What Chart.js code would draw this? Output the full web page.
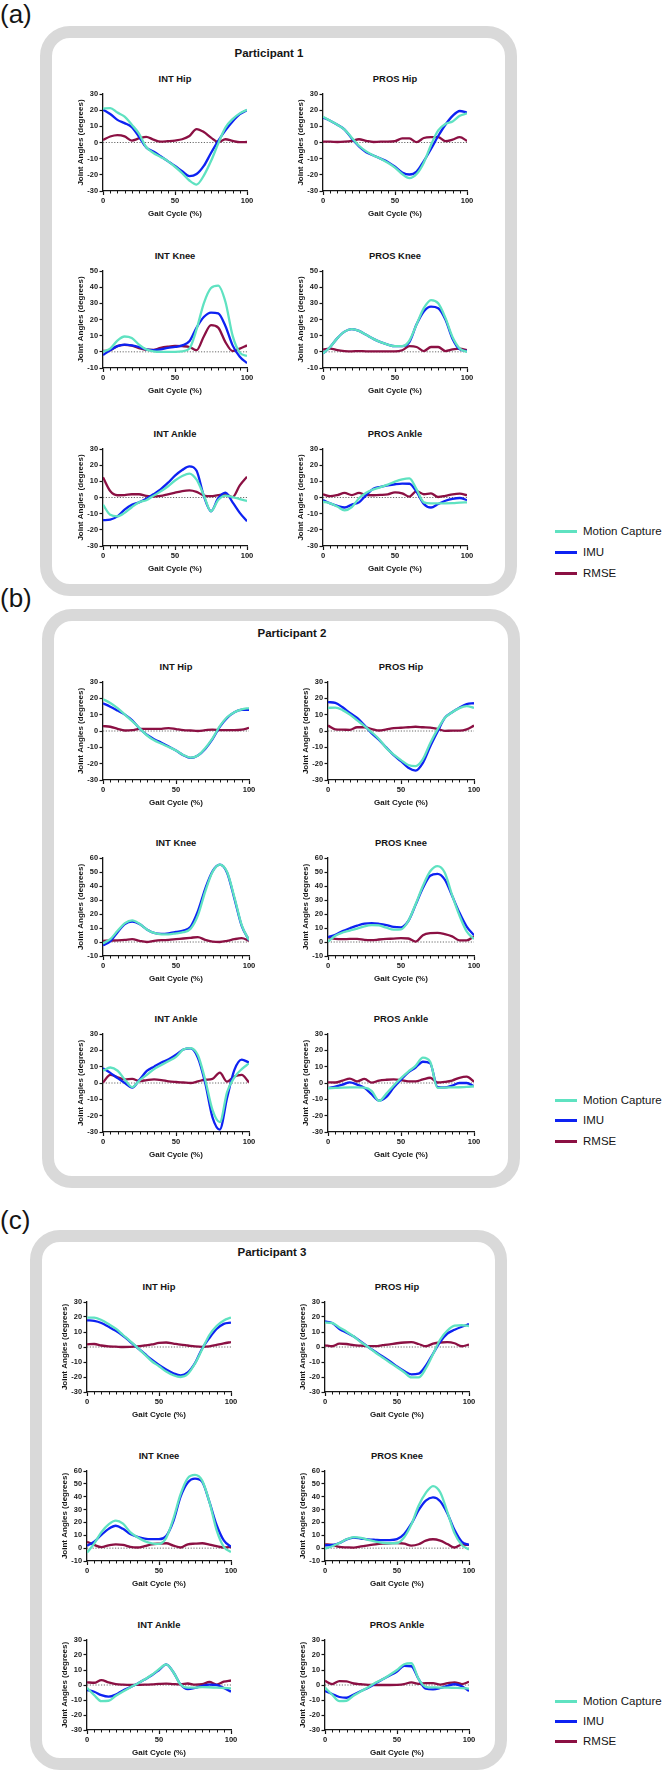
<!DOCTYPE html>
<html>
<head>
<meta charset="utf-8">
<title>Joint angles: Motion Capture vs IMU</title>
<script src="https://cdn.jsdelivr.net/npm/chart.js@4.4.1/dist/chart.umd.min.js"></script>
<style>
  body { margin: 0; background: #fff; font-family: 'Liberation Sans', Arial, sans-serif; color: #151515; }
  #page { position: relative; width: 670px; height: 1776px; overflow: hidden; }
  .box { position: absolute; border: 12px solid #d9d9d9; border-radius: 30px; box-sizing: border-box; }
  .tag { position: absolute; left: 0; font-size: 26px; line-height: 26px; transform: translateY(-50%); }
  .who { position: absolute; font-weight: bold; font-size: 11.5px; transform: translate(-50%, -50%); white-space: nowrap; }
  .sub { position: absolute; font-weight: bold; font-size: 9.4px; transform: translate(-50%, -50%); white-space: nowrap; }
  .key { position: absolute; left: 555px; height: 14px; transform: translateY(-50%); white-space: nowrap; font-size: 11.5px; line-height: 14px; }
  .key i { position: absolute; left: 0; top: 5.5px; width: 22px; height: 3px; }
  .key span { position: absolute; left: 28px; top: 0; }
  canvas { position: absolute; }
</style>
</head>
<body>
<div id="page"></div>
<script>
// gait cycle (%) sample points, shared by every curve
const gaitCycle = [0, 5, 10, 15, 20, 25, 30, 35, 40, 45, 50, 55, 60, 65, 70, 75, 80, 85, 90, 95, 100];
const xTicks = [0, 50, 100];
const hipTicks = [-30, -20, -10, 0, 10, 20, 30];
const kneeTicksShort = [-10, 0, 10, 20, 30, 40, 50];
const kneeTicksTall = [-10, 0, 10, 20, 30, 40, 50, 60];
const ankleTicks = [-30, -20, -10, 0, 10, 20, 30];
const seriesNames = ['Motion Capture', 'IMU', 'RMSE'];
const seriesColors = ['#5fe2c1', '#0d22f2', '#8b1043'];

// ---- Participant 1 ----
const p1IntHipMC   = [21, 21.3, 18.5, 16, 11, 5.5, -2.8, -6.5, -8.9, -11.5, -15, -19, -23.5, -26, -20.5, -11.5, -0.7, 9.2, 14.5, 18, 20.3];
const p1IntHipIMU  = [20.3, 17.6, 14, 12, 9.5, 3.5, -3, -5.6, -8.5, -11.5, -14.5, -17.8, -20.8, -19.5, -14.5, -6.5, 1, 7.5, 13, 17.5, 20];
const p1IntHipRMSE = [1.5, 3.7, 4.6, 3.8, 1.2, 2.5, 3.5, 1.8, 0.5, 0.8, 1.2, 2, 4, 8.3, 6.5, 3, 0.3, 2, 1, 0.2, 0.3];
const p1ProsHipMC   = [16, 13.5, 11, 8, 3, -2, -5.5, -8, -10, -12.5, -15.5, -19.5, -22, -19.5, -12.5, -1.5, 7.5, 11.5, 13, 16.5, 18];
const p1ProsHipIMU  = [15.5, 13.5, 11, 8, 2.5, -2.5, -6, -8, -10, -12, -15, -18.5, -19.8, -18, -11.5, -4, 4, 11, 16.5, 19.5, 18.5];
const p1ProsHipRMSE = [0.5, 0.5, 0.3, 0.5, 1, 2, 1, 0.3, 0.5, 0.5, 0.8, 2.5, 2.5, 0.2, 2.8, 3.3, 3.3, 0.8, 1.8, 3.3, 1];
const p1IntKneeMC   = [0, 2, 7, 9.5, 8.5, 4.5, 1.5, 0.3, 0, 0, 0, 0.3, 2, 14, 30, 39.5, 41, 31, 10, -0.5, -2.5];
const p1IntKneeIMU  = [-2, 1, 3.5, 4.5, 4, 3, 1.5, 1, 1.5, 2.5, 3, 4, 6.5, 15, 21.5, 24.3, 23.8, 16, 4, -3, -7];
const p1IntKneeRMSE = [0.5, 1, 3.5, 4.3, 3.8, 2.3, 1.3, 1.2, 2.5, 3.2, 3.6, 3.5, 3, 1, 9.5, 16.5, 15, 6, 0.5, 2, 4];
const p1ProsKneeMC   = [-1, 3, 8.5, 12.5, 14, 13, 10.5, 8, 6, 4.5, 3.5, 3.5, 7, 17, 27, 32, 30, 21, 9, 2, 0];
const p1ProsKneeIMU  = [-1, 3, 8.5, 12.5, 14, 13, 10.5, 8, 6, 4.5, 3.5, 3.5, 6, 17, 25, 28, 27, 20, 8, 1.5, 0.5];
const p1ProsKneeRMSE = [1.5, 2, 1, 0.5, 0.3, 0.5, 0.3, 0.3, 0.3, 0.3, 0.3, 1, 3.5, 3, 0.5, 3, 3, 0.5, 1.5, 2, 1];
const p1IntAnkleMC   = [-4.5, -10.7, -11.7, -9.5, -6, -3, -1.7, 1, 3.8, 6.8, 10.5, 13.3, 14.8, 11, 1.4, -8.5, -1.5, 1.2, 0.3, -1, -2.2];
const p1IntAnkleIMU  = [-14, -13.7, -11.7, -7.5, -4.5, -3, -0.8, 2, 5, 9, 13.5, 17, 19.3, 16.5, 1, -8.5, -0.5, 3, -3, -9.5, -14.7];
const p1IntAnkleRMSE = [12.5, 4, 1.4, 1.5, 2, 2, 1, 0.5, 1, 2, 3, 4, 4.4, 3.5, 1.2, 0.8, 1.5, 2, 0.2, 7.5, 12.8];
const p1ProsAnkleMC   = [-2.6, -3.6, -5.6, -8, -6, -0.5, 3, 5, 6.4, 8, 9.8, 11.2, 11.8, 5, -3, -3.6, -3.6, -3.6, -3.5, -3.2, -3];
const p1ProsAnkleIMU  = [-1.6, -3.6, -5.2, -6.2, -4.4, -3, 1.5, 5.4, 6.6, 7.5, 8.2, 8.6, 8.5, 3.5, -4, -6.2, -4, -2, -0.8, -0.3, -1.6];
const p1ProsAnkleRMSE = [2, 0.8, 1.5, 2.8, 1.5, 2.8, 1.5, 1.4, 1.6, 2, 3.2, 2.6, 0.5, 4, 2, 2.5, 0.3, 1, 2, 2.4, 1.4];

// ---- Participant 2 ----
const p2IntHipMC   = [19.5, 17.2, 14, 10, 6, 1.8, -2.6, -5.7, -7.8, -9.8, -12, -14.7, -16.3, -15, -10.5, -4.5, 3, 8.4, 11.5, 13.3, 14];
const p2IntHipIMU  = [17, 14.9, 12.5, 10, 6.5, 1.5, -2.3, -5, -7.2, -9.5, -12, -14.8, -16.5, -15, -11, -5, 2.5, 8, 11.5, 13, 13];
const p2IntHipRMSE = [3, 2.6, 1.3, 0.3, 0.5, 1.3, 1.3, 1.3, 1.3, 1.8, 1.2, 0.6, 0.3, 0, 0.5, 0.9, 0.5, 0.5, 0.5, 0.8, 1.9];
const p2ProsHipMC   = [14.2, 14.3, 12.8, 10, 6.5, 3, -0.8, -5, -10.5, -14.5, -17.8, -20.8, -21.5, -17.2, -7.5, 1, 8, 11.5, 14, 15.2, 14.2];
const p2ProsHipIMU  = [17.7, 17.2, 14.5, 11, 8, 3.5, -1.5, -5.5, -10.2, -14.8, -18.5, -22.5, -24.2, -19.5, -9.5, -0.5, 8, 11.5, 14.2, 16.5, 17];
const p2ProsHipRMSE = [3.3, 1, 0.8, 0.7, 2.3, 2.3, 1.2, 0.3, 1, 1.8, 2, 2.3, 2.6, 2.3, 2.1, 1.3, 0.1, 0.2, 0.2, 1, 3.3];
const p2IntKneeMC   = [-1, 2, 8, 13.5, 15.5, 13, 9, 6.5, 5.5, 5.5, 6.2, 7, 9.5, 19, 36, 50, 55.3, 50, 32, 12, 1.3];
const p2IntKneeIMU  = [-2.4, 0.5, 7, 12.8, 14.6, 12.8, 9, 6.5, 5.8, 6.2, 7.2, 8.2, 11, 22, 38, 50.5, 55.3, 49.5, 31, 11.5, 1.3];
const p2IntKneeRMSE = [0.8, 1, 1.2, 1.5, 2, 0.8, 0, 0.8, 1.3, 1.5, 2, 2.5, 3, 3.5, 1.5, 0.3, 0, 0.8, 2, 2.7, 0.8];
const p2ProsKneeMC   = [0.3, 4.5, 6.8, 8.2, 9.6, 11.2, 12, 11.8, 10.2, 8.8, 9, 15, 27, 40, 50.5, 54.2, 49.5, 33.5, 19, 7.5, 2.2];
const p2ProsKneeIMU  = [3.5, 5.2, 7.8, 9.8, 11.7, 13.2, 13.5, 13, 12.1, 10.8, 10.5, 15, 26.5, 38.5, 47.3, 48.6, 44.5, 33, 21, 11, 4.9];
const p2ProsKneeRMSE = [3.5, 2.2, 2, 2.2, 2.2, 1.5, 1.3, 1.8, 2.2, 2.4, 2.7, 2.5, 0.3, 4.9, 6.3, 6.5, 5.6, 4, 1.2, 1.2, 4];
const p2IntAnkleMC   = [7.5, 9.5, 7.5, 2, -2.5, 1.5, 5, 8.5, 11, 13.5, 16, 20.5, 21.4, 17, 2, -16.5, -24, -5.5, 3.5, 8.5, 12];
const p2IntAnkleIMU  = [9, 6.2, 3, 0, -2.8, 2, 7.4, 10, 12.5, 14.5, 17.3, 20.5, 21.2, 15.5, 0, -21, -28.5, -9, 8, 14.3, 12.5];
const p2IntAnkleRMSE = [0.3, 5, 3.5, 2.2, 2.5, 1.2, 1.8, 2.2, 1.8, 1, 0.6, 0.3, 0, 1, 2, 2.5, 6.3, 0.8, 4, 5, 0.3];
const p2ProsAnkleMC   = [-3.2, -3, -2.8, -2.7, -2.7, -2.8, -5, -11, -6.5, -1.5, 3, 7, 10.5, 15.5, 13, -3, -2.8, -2.7, -2.6, -2.4, -2];
const p2ProsAnkleIMU  = [-3.2, -2.2, -1, 0.4, -1, -3, -7, -10.8, -8.5, -2.8, 2, 6.5, 9.5, 13, 12, -2.5, -2.7, -1.6, 0, 0, -2];
const p2ProsAnkleRMSE = [0.4, 0.3, 1.5, 2.7, 1, 2.5, 0.2, 1.5, 2, 2.2, 1.8, 1, 1, 2.2, 3.2, 0.3, 0.7, 1.5, 3.2, 3.9, 0.8];

// ---- Participant 3 ----
const p3IntHipMC   = [19.6, 19.6, 18, 15.3, 12.2, 8, 3.9, -0.4, -4.9, -9.5, -12.8, -16.3, -18.8, -20, -18, -11, -1.5, 8, 14, 17.7, 19.6];
const p3IntHipIMU  = [17.8, 17.4, 16, 13.5, 10.8, 7.5, 3.5, -0.5, -4.5, -8.5, -12, -15, -17.5, -18.9, -17, -10.8, -1, 6, 12, 15.4, 16.2];
const p3IntHipRMSE = [1.8, 2, 1, 0.4, 0.2, 0, 0.1, 0.4, 1, 1.7, 2.7, 3, 2.3, 1.6, 1, 0.4, 0.1, 0.4, 1.4, 2.4, 3.3];
const p3ProsHipMC   = [16.3, 16, 13, 10.2, 7, 3.2, 0, -3.7, -7, -10.3, -13.5, -16.8, -20.3, -20.3, -14.3, -4.8, 5, 11, 14.3, 14.5, 14];
const p3ProsHipIMU  = [17, 16, 12, 9.5, 7, 3.5, 0, -3.2, -6.3, -9.5, -13, -16, -18.2, -17.8, -12.5, -4.5, 3.5, 9, 11.5, 13.5, 15.2];
const p3ProsHipRMSE = [1.1, 0.5, 2.2, 2, 1.2, 0.9, 0.6, 0.6, 1.2, 1.8, 2.5, 3, 3.2, 2, 0.5, 2.2, 3, 3.2, 2.5, 0.5, 1.6];
const p3IntKneeMC   = [-3.5, 3.5, 12.5, 18.5, 21.4, 19, 12.5, 8.5, 5.5, 3.8, 3.3, 8, 23, 42, 54.5, 57, 52.5, 36, 14, 1, -3];
const p3IntKneeIMU  = [1.8, 5, 10.3, 15, 17.4, 15, 11, 8.8, 7.4, 7, 7, 9.5, 21, 40, 51, 54, 51.5, 36, 18, 6, 1];
const p3IntKneeRMSE = [5, 2.5, 0.8, 2.2, 3, 2.5, 1, 0.5, 1.5, 3, 3.5, 3.8, 2, 0.5, 3, 3.5, 3.8, 2.8, 1.5, 0.5, 1];
const p3ProsKneeMC   = [-0.4, 1.5, 4, 6.9, 8.5, 8, 6.5, 5, 4.2, 3.8, 4, 8.5, 18.5, 33, 43, 48.3, 43.5, 28, 11.5, 2.5, -1];
const p3ProsKneeIMU  = [2.2, 2.5, 4, 6.8, 8.2, 7.5, 6.8, 6.5, 6.3, 6.3, 7, 11, 19, 29.5, 37, 39.5, 36.5, 27, 14, 5, 2.5];
const p3ProsKneeRMSE = [3, 2.5, 0.9, 0.6, 0.4, 1.3, 2.2, 3, 3.5, 3.7, 4, 3.5, 2, 3, 5.8, 6.9, 5.8, 3.2, 0.5, 2.8, 2.5];
const p3IntAnkleMC   = [-1.8, -6.8, -10.8, -10.5, -7.2, -4.3, -1.6, 0.9, 3.6, 6.8, 10.5, 13.7, 8.5, 0.3, -1.8, -1.7, -1.4, -1.5, -1.8, -2, -2.2];
const p3IntAnkleIMU  = [-3.3, -4.5, -6.8, -7.8, -6.4, -3.6, -1.5, 0.9, 3.6, 6.5, 10, 13.7, 8.5, 0.3, -2.8, -2, -0.6, 0.2, 0, -2, -4.4];
const p3IntAnkleRMSE = [1.8, 1.5, 3.3, 1.7, 0.6, 0.2, 0, 0.1, 0.2, 0.4, 0.7, 0.9, 0.6, 0.4, 1, 0.3, 0.5, 2, 0.3, 2.2, 3];
const p3ProsAnkleMC   = [-1.7, -6.5, -10.8, -10.5, -7, -4.2, -1.5, 1.5, 3.8, 6.8, 10, 13.8, 14.5, 4, -1.2, -1.6, -1.7, -1.7, -1.9, -2.1, -2.4];
const p3ProsAnkleIMU  = [-4, -6, -8, -8.5, -6.3, -4, -1.8, 1, 3.8, 6.3, 9, 12.8, 12.5, 4, -2.5, -2.9, -2, -0.5, 0.5, -0.8, -4];
const p3ProsAnkleRMSE = [2.8, 0.6, 2.6, 2.4, 1, 0.5, 0.1, 0, 0, 0, 0.1, 0.6, 1.8, 0.8, 1.2, 1.2, 0.3, 1.2, 1.8, 0.6, 2.1];

// subplot tables: title, mocap, imu, rmse, y ticks (order: row by row, INT then PROS)
const p1Plots = [
  ['INT Hip', p1IntHipMC, p1IntHipIMU, p1IntHipRMSE, hipTicks],
  ['PROS Hip', p1ProsHipMC, p1ProsHipIMU, p1ProsHipRMSE, hipTicks],
  ['INT Knee', p1IntKneeMC, p1IntKneeIMU, p1IntKneeRMSE, kneeTicksShort],
  ['PROS Knee', p1ProsKneeMC, p1ProsKneeIMU, p1ProsKneeRMSE, kneeTicksShort],
  ['INT Ankle', p1IntAnkleMC, p1IntAnkleIMU, p1IntAnkleRMSE, ankleTicks],
  ['PROS Ankle', p1ProsAnkleMC, p1ProsAnkleIMU, p1ProsAnkleRMSE, ankleTicks]
];
const p2Plots = [
  ['INT Hip', p2IntHipMC, p2IntHipIMU, p2IntHipRMSE, hipTicks],
  ['PROS Hip', p2ProsHipMC, p2ProsHipIMU, p2ProsHipRMSE, hipTicks],
  ['INT Knee', p2IntKneeMC, p2IntKneeIMU, p2IntKneeRMSE, kneeTicksTall],
  ['PROS Knee', p2ProsKneeMC, p2ProsKneeIMU, p2ProsKneeRMSE, kneeTicksTall],
  ['INT Ankle', p2IntAnkleMC, p2IntAnkleIMU, p2IntAnkleRMSE, ankleTicks],
  ['PROS Ankle', p2ProsAnkleMC, p2ProsAnkleIMU, p2ProsAnkleRMSE, ankleTicks]
];
const p3Plots = [
  ['INT Hip', p3IntHipMC, p3IntHipIMU, p3IntHipRMSE, hipTicks],
  ['PROS Hip', p3ProsHipMC, p3ProsHipIMU, p3ProsHipRMSE, hipTicks],
  ['INT Knee', p3IntKneeMC, p3IntKneeIMU, p3IntKneeRMSE, kneeTicksTall],
  ['PROS Knee', p3ProsKneeMC, p3ProsKneeIMU, p3ProsKneeRMSE, kneeTicksTall],
  ['INT Ankle', p3IntAnkleMC, p3IntAnkleIMU, p3IntAnkleRMSE, ankleTicks],
  ['PROS Ankle', p3ProsAnkleMC, p3ProsAnkleIMU, p3ProsAnkleRMSE, ankleTicks]
];

// page layout (pixels)
const panels = [
  { tag: '(a)', tagY: 14,   box: [40, 26, 517, 596],    who: 'Participant 1', whoX: 269, whoY: 53,
    colL: [103, 323], plotW: 144, rowT: [94, 271, 449],    plotH: 97, keyY: [531, 552, 573], plots: p1Plots },
  { tag: '(b)', tagY: 598,  box: [42, 609, 520, 1188],  who: 'Participant 2', whoX: 292, whoY: 633,
    colL: [103, 328], plotW: 146, rowT: [682, 858, 1034],  plotH: 98, keyY: [1100, 1120, 1141], plots: p2Plots },
  { tag: '(c)', tagY: 1220, box: [30, 1230, 507, 1770], who: 'Participant 3', whoX: 272, whoY: 1252,
    colL: [87, 325], plotW: 144, rowT: [1302, 1471, 1640], plotH: 90, keyY: [1701, 1721, 1741], plots: p3Plots }
];

const PAD_L = 30, PAD_T = 6, PAD_R = 9, PAD_B = 30;
const INK = '#161616';
Chart.defaults.font.family = "'Liberation Sans', Arial, sans-serif";
Chart.defaults.color = INK;

const page = document.getElementById('page');

function addDiv(cls, text, left, top) {
  const d = document.createElement('div');
  d.className = cls;
  if (text) d.textContent = text;
  d.style.left = left + 'px';
  d.style.top = top + 'px';
  page.appendChild(d);
  return d;
}

// dotted zero line under the curves, minor ticks on the gait axis
const prismLook = {
  id: 'prismLook',
  beforeDatasetsDraw(chart) {
    const { ctx, chartArea, scales } = chart;
    const y0 = scales.y.getPixelForValue(0);
    ctx.save();
    ctx.strokeStyle = '#6a6a6a';
    ctx.lineWidth = 1;
    ctx.setLineDash([1.2, 1.6]);
    ctx.beginPath();
    ctx.moveTo(chartArea.left, y0);
    ctx.lineTo(chartArea.right, y0);
    ctx.stroke();
    ctx.restore();
  },
  afterDraw(chart) {
    const { ctx, chartArea, scales } = chart;
    ctx.save();
    ctx.strokeStyle = INK;
    ctx.lineWidth = 1;
    ctx.beginPath();
    for (let v = 5; v < 100; v += 5) {
      if (v === 50) continue;
      const px = Math.round(scales.x.getPixelForValue(v)) + 0.5;
      ctx.moveTo(px, chartArea.bottom);
      ctx.lineTo(px, chartArea.bottom + 2.5);
    }
    ctx.stroke();
    ctx.restore();
  }
};

function makePlot(L, T, W, H, plot) {
  const [title, mc, imu, rmse, yTicks] = plot;
  const cv = document.createElement('canvas');
  const cw = W + PAD_L + PAD_R;
  const ch = H + PAD_T + PAD_B;
  cv.width = cw;
  cv.height = ch;
  cv.style.left = (L - PAD_L) + 'px';
  cv.style.top = (T - PAD_T) + 'px';
  cv.style.width = cw + 'px';
  cv.style.height = ch + 'px';
  page.appendChild(cv);

  addDiv('sub', title, L + W / 2, T - 16);

  const toPoints = (arr) => arr.map((v, i) => ({ x: gaitCycle[i], y: v }));
  const lineSet = (idx, arr) => ({
    label: seriesNames[idx],
    data: toPoints(arr),
    borderColor: seriesColors[idx],
    borderWidth: 2.3,
    pointRadius: 0,
    fill: false,
    cubicInterpolationMode: 'monotone',
    order: idx
  });

  new Chart(cv.getContext('2d'), {
    type: 'line',
    data: { datasets: [lineSet(0, mc), lineSet(1, imu), lineSet(2, rmse)] },
    options: {
      responsive: false,
      animation: false,
      devicePixelRatio: 1,
      layout: { padding: { left: 0, top: PAD_T, right: PAD_R, bottom: 0 } },
      plugins: { legend: { display: false }, tooltip: { enabled: false } },
      scales: {
        x: {
          type: 'linear',
          min: xTicks[0],
          max: xTicks[xTicks.length - 1],
          afterFit: (s) => { s.height = PAD_B; },
          afterBuildTicks: (s) => { s.ticks = xTicks.map((v) => ({ value: v })); },
          ticks: { font: { size: 7.6, weight: 'bold' }, padding: 1.5, maxRotation: 0 },
          grid: { drawOnChartArea: false, tickLength: 4, tickColor: INK, tickWidth: 1.2 },
          border: { color: INK, width: 1.3 },
          title: { display: true, text: 'Gait Cycle (%)', font: { size: 8, weight: 'bold' }, padding: { top: 0, bottom: 2.7 } }
        },
        y: {
          min: yTicks[0],
          max: yTicks[yTicks.length - 1],
          afterFit: (s) => { s.width = PAD_L; },
          afterBuildTicks: (s) => { s.ticks = yTicks.map((v) => ({ value: v })); },
          ticks: { font: { size: 7.4, weight: 'bold' }, padding: 1.5 },
          grid: { drawOnChartArea: false, tickLength: 3.5, tickColor: INK, tickWidth: 1.2 },
          border: { color: INK, width: 1.3 },
          title: { display: true, text: 'Joint Angles (degrees)', font: { size: 8, weight: 'bold' }, padding: { top: 2.5, bottom: 0 } }
        }
      }
    },
    plugins: [prismLook]
  });
}

panels.forEach((p) => {
  const [bx0, by0, bx1, by1] = p.box;
  const box = addDiv('box', '', bx0, by0);
  box.style.width = (bx1 - bx0) + 'px';
  box.style.height = (by1 - by0) + 'px';

  addDiv('tag', p.tag, 0, p.tagY);
  addDiv('who', p.who, p.whoX, p.whoY);

  p.plots.forEach((plot, i) => {
    const col = i % 2;
    const row = Math.floor(i / 2);
    makePlot(p.colL[col], p.rowT[row], p.plotW, p.plotH, plot);
  });

  seriesNames.forEach((name, k) => {
    const item = addDiv('key', '', 555, p.keyY[k]);
    const sw = document.createElement('i');
    sw.style.background = seriesColors[k];
    const tx = document.createElement('span');
    tx.textContent = name;
    item.appendChild(sw);
    item.appendChild(tx);
  });
});
</script>
</body>
</html>
